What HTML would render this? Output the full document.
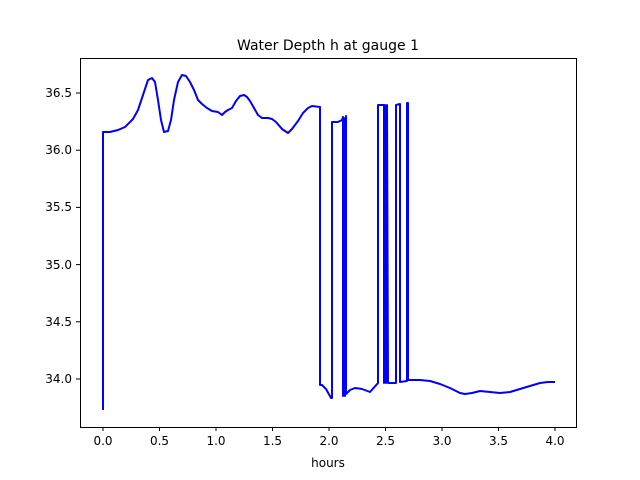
<!DOCTYPE html>
<html><head><style>body{margin:0;background:#fff}svg{display:block}text{font-family:"DejaVu Sans","Liberation Sans",sans-serif;fill:#000}</style></head>
<body>
<svg width="640" height="480" viewBox="0 0 640 480">
<rect x="0" y="0" width="640" height="480" fill="#fff"/>
<polyline fill="none" stroke="#0000ff" stroke-width="2" stroke-linejoin="round" points="103,410 103,132 110,132 118,130 125,127 133,119 138,110 143,95 148,80 152,78 155,82 158,100 161,120 164,132 168,131 171,120 174,100 178,82 182,75 186,76 190,82 194,90 198,100 202,104 207,108 212,111 218,112 222,115 225,112 228,110 232,108 236,101 240,96 244,95 247,97 250,101 254,108 258,115 262,118 268,118 272,119 276,122 282,129 288,133 292,129 298,121 303,113 308,108 312,106 320,107 320,385 322,385 326,389 331,398 332,398 332,122 338,122 342,120 343,117 343,396 344,118 345,396 346,116 346,394 350,390 355,388 362,389 370,392 378,383 378,105 384,105 384,383 385,105 386,383 387,105 388,383 396,383 396,105 400,104 400,382 407,381 407,103 408,103 408,380 420,380 430,381 440,384 450,388 460,393 465,394 472,393 480,391 490,392 500,393 510,392 520,389 530,386 540,383 548,382 555,382"/>
<rect x="80.5" y="58.5" width="496" height="369" fill="none" stroke="#000" stroke-width="1"/>
<g stroke="#000" stroke-width="1">
<line x1="103" y1="427" x2="103" y2="431"/><line x1="159.5" y1="427" x2="159.5" y2="431"/><line x1="216" y1="427" x2="216" y2="431"/><line x1="272.5" y1="427" x2="272.5" y2="431"/><line x1="329" y1="427" x2="329" y2="431"/><line x1="385.5" y1="427" x2="385.5" y2="431"/><line x1="442" y1="427" x2="442" y2="431"/><line x1="498.5" y1="427" x2="498.5" y2="431"/><line x1="555" y1="427" x2="555" y2="431"/>
<line x1="76" y1="93" x2="80" y2="93"/><line x1="76" y1="150.2" x2="80" y2="150.2"/><line x1="76" y1="207.4" x2="80" y2="207.4"/><line x1="76" y1="264.6" x2="80" y2="264.6"/><line x1="76" y1="321.8" x2="80" y2="321.8"/><line x1="76" y1="379" x2="80" y2="379"/>
</g>
<g font-size="12" text-anchor="middle">
<text x="103" y="445">0.0</text><text x="159.5" y="445">0.5</text><text x="216" y="445">1.0</text><text x="272.5" y="445">1.5</text><text x="329" y="445">2.0</text><text x="385.5" y="445">2.5</text><text x="442" y="445">3.0</text><text x="498.5" y="445">3.5</text><text x="555" y="445">4.0</text>
<text x="328" y="467">hours</text>
</g>
<g font-size="12" text-anchor="end">
<text x="72" y="97">36.5</text><text x="72" y="154">36.0</text><text x="72" y="211">35.5</text><text x="72" y="269">35.0</text><text x="72" y="326">34.5</text><text x="72" y="383">34.0</text>
</g>
<text x="328" y="50" font-size="14" text-anchor="middle">Water Depth h at gauge 1</text>
</svg>
</body></html>
